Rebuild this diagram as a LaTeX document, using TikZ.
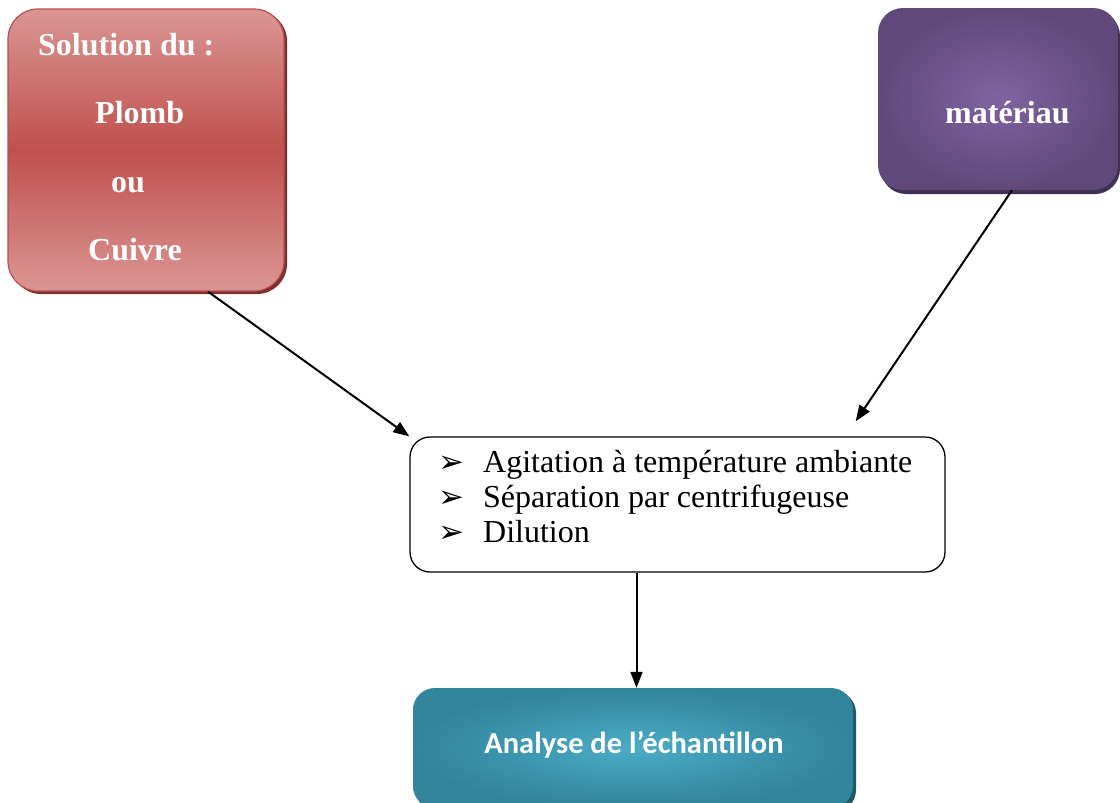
\documentclass[tikz,border=0pt]{standalone}
\usepackage{fontspec}
\setmainfont{Liberation Serif}
\newfontfamily\calib{Carlito}
\newfontfamily\dejavu{DejaVu Sans}
\usetikzlibrary{arrows.meta,calc,shadings}
\definecolor{redlight}{HTML}{DA9694}
\definecolor{redmid}{HTML}{C0504D}
\definecolor{redborder}{HTML}{B9504D}
\definecolor{redshadow}{HTML}{7F2F2D}
\definecolor{purpin}{HTML}{8064A2}
\definecolor{purpout}{HTML}{5F497A}
\definecolor{purpshadow}{HTML}{3F3151}
\definecolor{tealin}{HTML}{4BACC6}
\definecolor{tealout}{HTML}{31849B}
\definecolor{tealshadow}{HTML}{215968}
\tikzset{
  x=1pt, y=-1pt,
  bigtxt/.style={font=\fontsize{32}{35}\selectfont\bfseries, text=white, inner sep=0pt},
  listtxt/.style={font=\fontsize{32}{35}\selectfont, inner sep=0pt, anchor=base west},
  bul/.style={font=\dejavu\fontsize{31}{34}\selectfont, inner sep=0pt, anchor=base west},
  conn/.style={line width=2pt, -{Triangle[length=16pt,width=12pt]}},
}
\begin{document}
\begin{tikzpicture}
\useasboundingbox (0,0) rectangle (1120,803);
% red box
\fill[redshadow, rounded corners=30pt] (11,11) rectangle (287,294);
\node[draw=redborder, line width=1.2pt, rounded corners=30pt, minimum width=276pt, minimum height=282pt,
  top color=redlight, bottom color=redlight, middle color=redmid] (red) at (146,150) {};
\node[bigtxt, anchor=base west] (t1) at (38,55) {Solution du :};
\node[bigtxt, anchor=base west] (t2) at (95,123) {Plomb};
\node[bigtxt, anchor=base west] (t3) at (111,192) {ou};
\node[bigtxt, anchor=base west] (t4) at (88,260) {Cuivre};
% purple box
\fill[purpshadow, rounded corners=25pt] (881,11) rectangle (1120,194);
\node[rounded corners=25pt, minimum width=240pt, minimum height=182pt,
  inner color=purpin, outer color=purpout] (mat) at (998,99) {};
\node[bigtxt, anchor=base west] (mt) at (945,123) {matériau};
% middle box
\node[draw=black, line width=1.3pt, rounded corners=20pt, minimum width=535pt, minimum height=135pt, fill=white] (mid) at (677.5,504.5) {};
\node[bul] (b1) at (438,472) {➢};
\node[bul] (b2) at (438,507) {➢};
\node[bul] (b3) at (438,542) {➢};
\node[listtxt] (l1) at (483,472) {Agitation à température ambiante};
\node[listtxt] (l2) at (483,507) {Séparation par centrifugeuse};
\node[listtxt] (l3) at (483,542) {Dilution};
% teal box
\fill[tealshadow, rounded corners=22pt] (416,691) rectangle (856,812);
\node[rounded corners=22pt, minimum width=440pt, minimum height=120pt,
  inner color=tealin, outer color=tealout] (teal) at (633,748) {};
\node[font=\calib\bfseries\fontsize{30.5}{34}\selectfont, text=white, inner sep=0pt, anchor=base] (at) at (634,753) {Analyse de l’échantillon};
% connectors
\coordinate (s1) at ($(red.south)+(62,0)$);
\coordinate (s2) at ($(mat.south)+(14,0)$);
\coordinate (e2) at ($(mid.north east)+(-90,-15)$);
\coordinate (s3) at ($(mid.south)+(-41,0)$);
\draw[conn] (s1) -- (mid.north west);
\draw[conn] (s2) -- (e2);
\draw[conn] (s3) -- (s3 |- teal.north);
\end{tikzpicture}
\end{document}
